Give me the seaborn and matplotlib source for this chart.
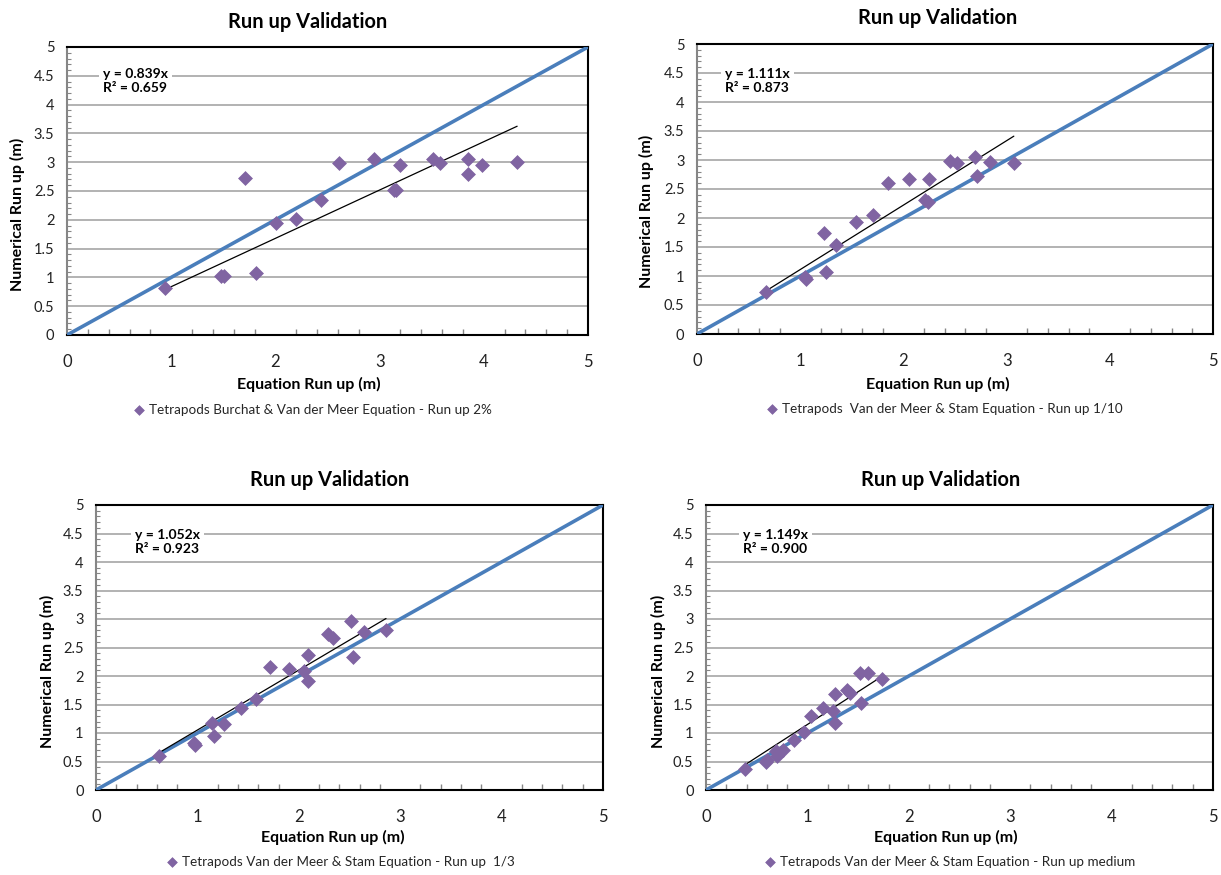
import numpy as np
import pandas as pd
import matplotlib
matplotlib.use("Agg")
import matplotlib.pyplot as plt
import seaborn as sns
from matplotlib.ticker import MultipleLocator

# dati (Equation Run up, Numerical Run up)
eq_2pc = [0.94, 1.48, 1.51, 1.71, 1.81, 2.01, 2.20, 2.44, 2.61, 2.95, 3.14, 3.16, 3.20,
          3.51, 3.58, 3.85, 3.85, 3.98, 4.32]
num_2pc = [0.81, 1.03, 1.02, 2.72, 1.08, 1.94, 2.02, 2.34, 2.98, 3.06, 2.51, 2.51, 2.96,
           3.05, 2.98, 3.05, 2.80, 2.95, 3.01]

eq_110 = [0.67, 1.05, 1.06, 1.23, 1.25, 1.35, 1.54, 1.71, 1.85, 2.05, 2.25, 2.21, 2.24,
          2.45, 2.52, 2.69, 2.71, 2.84, 3.07]
num_110 = [0.72, 0.98, 0.95, 1.74, 1.07, 1.54, 1.93, 2.06, 2.60, 2.67, 2.67, 2.31, 2.27,
           2.99, 2.95, 3.05, 2.72, 2.96, 2.95]

eq_13 = [0.62, 0.97, 0.98, 1.14, 1.16, 1.26, 1.43, 1.58, 1.72, 1.90, 2.05, 2.09, 2.09,
         2.29, 2.34, 2.51, 2.53, 2.64, 2.86]
num_13 = [0.60, 0.83, 0.79, 1.18, 0.95, 1.16, 1.43, 1.60, 2.15, 2.12, 2.09, 2.37, 1.92,
          2.73, 2.67, 2.97, 2.33, 2.77, 2.80]

eq_med = [0.38, 0.59, 0.60, 0.70, 0.69, 0.76, 0.87, 0.97, 1.04, 1.15, 1.25, 1.27, 1.27,
          1.39, 1.42, 1.52, 1.60, 1.53, 1.74]
num_med = [0.36, 0.49, 0.52, 0.60, 0.69, 0.71, 0.87, 1.01, 1.30, 1.44, 1.39, 1.18, 1.68,
           1.75, 1.70, 2.05, 2.06, 1.53, 1.95]

pendenze = [0.839, 1.111, 1.052, 1.149]
r2 = [0.659, 0.873, 0.923, 0.900]
etichette = ["Tetrapods Burchat & Van der Meer Equation - Run up 2%",
             "Tetrapods  Van der Meer & Stam Equation - Run up 1/10",
             "Tetrapods Van der Meer & Stam Equation - Run up  1/3",
             "Tetrapods Van der Meer & Stam Equation - Run up medium"]
linea_1a1 = [0, 5]

W, H = 1221, 875

sns.set_theme(style="white")
plt.rcParams['font.family'] = ['Lato', 'DejaVu Sans']

fig = plt.figure(figsize=(W / 100, H / 100), dpi=100)


def px(x, y):
    return x / W, 1 - y / H


# posizioni in pixel: sinistra, destra, alto, basso
box = [(67, 588, 47, 335), (697, 1213, 44, 334), (96, 603, 505, 790), (706, 1213, 505, 790)]
titoli = [(308, 22), (938, 18), (330, 480), (941, 480)]
xlab = [(309, 384), (938, 384), (333, 837), (946, 837)]
ylab = [(17, 214), (646, 211), (47, 671), (658, 671)]
legende = [(134, 410), (767, 409), (167, 862), (765, 862)]
testi = [(103, 68), (725, 68), (135, 529), (743, 529)]

serie = [(eq_2pc, num_2pc), (eq_110, num_110), (eq_13, num_13), (eq_med, num_med)]

for i, ((xs, ys), (l, r, t, b)) in enumerate(zip(serie, box)):
    ax = fig.add_axes([l / W, 1 - b / H, (r - l) / W, (b - t) / H])
    df = pd.DataFrame({"Equation": xs, "Numerical": ys})

    # linea 1:1
    sns.lineplot(x=linea_1a1, y=linea_1a1, color="#4a7ebb", lw=2.6, ax=ax, zorder=3)
    # linea di tendenza (passa per l'origine)
    xt = np.array([min(xs), max(xs)])
    sns.lineplot(x=xt, y=pendenze[i] * xt, color="black", lw=0.9, ax=ax, zorder=4)
    sns.scatterplot(data=df, x="Equation", y="Numerical", marker="D", s=50,
                    color="#8064a2", edgecolor="#8064a2", linewidth=0.5,
                    label=etichette[i], ax=ax, zorder=5)

    ax.set_xlim(0, 5)
    ax.set_ylim(0, 5)
    ax.xaxis.set_major_locator(MultipleLocator(1))
    ax.xaxis.set_minor_locator(MultipleLocator(0.2))
    ax.yaxis.set_minor_locator(MultipleLocator(0.1))
    ax.set_yticks(np.arange(0, 5.01, 0.5))
    ax.set_yticklabels([f"{v:g}" for v in np.arange(0, 5.01, 0.5)])
    ax.grid(axis="y", which="major", color="#a6a6a6", lw=1.2)
    ax.grid(axis="x", visible=False)
    ax.set_axisbelow(True)

    ax.tick_params(axis="x", which="major", direction="out", length=4, width=1,
                   color="#868686", labelsize=12, pad=10, labelcolor="#222222")
    ax.tick_params(axis="x", which="minor", direction="in", length=4, width=1,
                   color="#868686", bottom=True)
    ax.tick_params(axis="y", which="major", direction="out", length=5, width=1,
                   color="#868686", labelsize=10.5, pad=4, labelcolor="#222222")
    ax.tick_params(axis="y", which="minor", direction="in", length=3, width=0.8,
                   color="#868686", left=True)

    for s in ["top", "right", "bottom"]:
        ax.spines[s].set_color("black")
        ax.spines[s].set_linewidth(1.5)
    ax.spines["left"].set_color("#868686")
    ax.spines["left"].set_linewidth(1.5)

    ax.set_xlabel("")
    ax.set_ylabel("")
    fig.text(*px(*titoli[i]), "Run up Validation", ha="center", va="center",
             fontsize=14.4, fontweight="bold", color="black")
    fig.text(*px(*xlab[i]), "Equation Run up (m)", ha="center", va="center",
             fontsize=11.5, fontweight="bold", color="black")
    fig.text(*px(*ylab[i]), "Numerical Run up (m)", ha="center", va="center",
             rotation=90, fontsize=11.5, fontweight="bold", color="black")

    tx, ty = testi[i]
    ax.text((tx - l) / (r - l), (b - ty) / (b - t),
            f"y = {pendenze[i]:.3f}x\nR² = {r2[i]:.3f}", transform=ax.transAxes,
            ha="left", va="top", fontsize=10, fontweight="bold", linespacing=1.2,
            color="black", bbox=dict(facecolor="white", edgecolor="none", pad=3), zorder=6)

    lx, ly = legende[i]
    ax.legend(loc="center left", bbox_to_anchor=((lx - l) / (r - l), (b - ly) / (b - t)),
              frameon=False, fontsize=9.7, handlelength=0.8, handletextpad=0.3,
              borderaxespad=0, borderpad=0, markerscale=0.7)

fig.savefig("out.png", dpi=100)
